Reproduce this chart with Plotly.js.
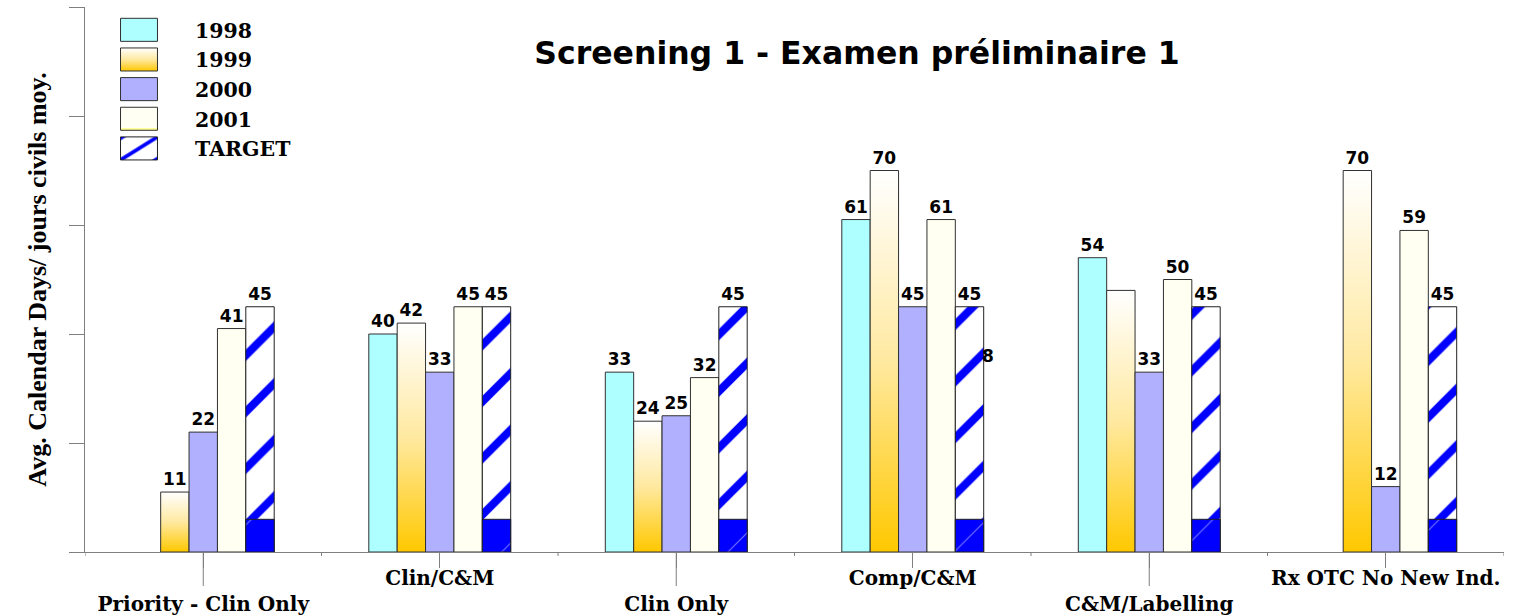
<!DOCTYPE html>
<html><head><meta charset="utf-8">
<script src="https://cdn.plot.ly/plotly-3.0.1.min.js"></script>
<style>html,body{margin:0;padding:0;background:#fff}</style>
</head><body>
<div id="chart" style="width:1520px;height:615px"></div>
<script>
// ---- data ----
const categories = ['Priority - Clin Only', 'Clin/C&M', 'Clin Only', 'Comp/C&M', 'C&M/Labelling', 'Rx OTC No New Ind.'];
const labelLowerRow = [true, false, true, false, true, false];
const seriesNames = ['1998', '1999', '2000', '2001', 'TARGET'];
const y1998 = [null, 40, 33, 61, 54, null];
const y1999 = [11, 42, 24, 70, 48, 70];
const y2000 = [22, 33, 25, 45, 33, 12];
const y2001 = [41, 45, 32, 61, 50, 59];
const yTarget = [45, 45, 45, 45, 45, 45];
const yTargetSolid = [6, 6, 6, 6, 6, 6];
const unlabeled1999 = ['C&M/Labelling'];
const strayLabel = {text: '8', category: 'Comp/C&M', value: 36};
const titleText = 'Screening 1 - Examen préliminaire 1';
const yTitleText = 'Avg. Calendar Days/ jours civils moy.';

// ---- build ----
function labels(vals, skipCats) {
  return vals.map((v, i) => (v == null || (skipCats && skipCats.includes(categories[i]))) ? '' : String(v));
}
const lblFont = {family: 'DejaVu Sans', size: 17, color: '#000', weight: 700};
function barTrace(name, vals, color, group, skip) {
  return {
    type: 'bar', name: name, x: categories, y: vals, offsetgroup: group,
    text: labels(vals, skip), textposition: 'outside', cliponaxis: false, constraintext: 'none',
    textfont: lblFont, hoverinfo: 'skip',
    marker: {color: color, line: {color: '#303030', width: 1}}
  };
}
const data = [
  barTrace(seriesNames[0], y1998, '#AEFFFF', 'a'),
  barTrace(seriesNames[1], y1999, '#FFE27A', 'b', unlabeled1999),
  barTrace(seriesNames[2], y2000, '#B0B0FF', 'c'),
  barTrace(seriesNames[3], y2001, '#FFFFF2', 'd'),
  Object.assign(barTrace(seriesNames[4], yTarget, '#FFFFFF', 'e'), {
    marker: {color: '#FFFFFF', line: {color: '#202020', width: 1},
      pattern: {shape: '/', fgcolor: '#0000FF', bgcolor: '#FFFFFF', size: 40, solidity: 0.2}}
  }),
  {
    type: 'bar', name: 'target-solid', x: categories, y: yTargetSolid, offsetgroup: 'e',
    showlegend: false, hoverinfo: 'skip',
    marker: {color: '#0000FF', line: {color: '#202020', width: 1},
      pattern: {shape: '/', fgcolor: '#7070FF', bgcolor: '#0000FF', size: 40, solidity: 0.03}}
  }
];

const shapes = [];
categories.forEach((c, i) => {
  if (labelLowerRow[i]) {
    shapes.push({type: 'line', xref: 'x', x0: c, x1: c, yref: 'paper', ysizemode: 'pixel', yanchor: 0,
      y0: 0, y1: -34, line: {color: '#7f7f7f', width: 1}});
  }
});
for (let i = 0; i <= categories.length; i++) {
  shapes.push({type: 'line', xref: 'x', x0: i - 0.5, x1: i - 0.5, yref: 'paper', ysizemode: 'pixel', yanchor: 0,
    y0: 0, y1: -4, line: {color: '#7f7f7f', width: 1}});
}

const PL = 85, PT = 7, PW = 1520 - 85 - 16, PH = 615 - 7 - 63;
const layout = {
  width: 1520, height: 615,
  margin: {l: PL, r: 16, t: PT, b: 63, autoexpand: false},
  paper_bgcolor: '#fff', plot_bgcolor: '#fff',
  barmode: 'group', bargap: 0.4, bargroupgap: 0,
  showlegend: true,
  title: {text: titleText, font: {family: 'DejaVu Sans', size: 31.5, weight: 700, color: '#000'},
    xref: 'container', x: 857 / 1520, xanchor: 'center', yref: 'container', y: 1 - 53 / 615, yanchor: 'middle'},
  legend: {x: (115 - PL) / PW, xanchor: 'left', y: 1 - (10 - PT) / PH, yanchor: 'top', itemwidth: 70,
    bgcolor: 'rgba(0,0,0,0)', font: {family: 'DejaVu Serif', size: 20.5, weight: 700, color: '#000'}, tracegroupgap: 0},
  xaxis: {type: 'category', range: [-0.5, categories.length - 0.5], showline: true, linecolor: '#7f7f7f', linewidth: 1,
    ticks: 'outside', ticklen: 15, tickcolor: '#7f7f7f', tickwidth: 1, tickangle: 0, ticklabelstandoff: -7,
    tickmode: 'array', tickvals: categories,
    ticktext: categories.map((c, i) => labelLowerRow[i] ? '<br>' + c : c),
    tickfont: {family: 'DejaVu Serif', size: 20, weight: 700, color: '#000'},
    showgrid: false, zeroline: false, automargin: false},
  yaxis: {range: [0, 100], dtick: 20, showline: true, linecolor: '#7f7f7f', linewidth: 1,
    ticks: 'outside', ticklen: 15, tickcolor: '#7f7f7f', tickwidth: 1, showticklabels: false,
    showgrid: false, zeroline: false, automargin: false,
    title: {text: yTitleText, standoff: 14, font: {family: 'Liberation Serif', size: 26, weight: 700, color: '#000'}}},
  shapes: shapes,
  annotations: [{x: strayLabel.category, y: strayLabel.value, xref: 'x', yref: 'y', text: strayLabel.text,
    showarrow: false, xshift: 75, font: lblFont}]
};

Plotly.newPlot('chart', data, layout, {staticPlot: true}).then(gd => {
  const NS = 'http://www.w3.org/2000/svg';
  const svg = gd.querySelector('svg.main-svg');
  const defs = document.createElementNS(NS, 'defs');
  svg.insertBefore(defs, svg.firstChild);
  function grad(id, stops) {
    const g = document.createElementNS(NS, 'linearGradient');
    g.setAttribute('id', id); g.setAttribute('x1', '0'); g.setAttribute('y1', '0');
    g.setAttribute('x2', '0'); g.setAttribute('y2', '1');
    stops.forEach(s => {
      const st = document.createElementNS(NS, 'stop');
      st.setAttribute('offset', s[0]); st.setAttribute('stop-color', s[1]);
      g.appendChild(st);
    });
    defs.appendChild(g);
  }
  grad('g1999', [[0, '#FFFFFF'], [0.5, '#FFE9A0'], [1, '#FFC800']]);
  grad('g2001', [[0, '#FFFFF4'], [0.9, '#FFFFF2'], [0.92, '#FFFF99'], [1, '#FFFF99']]);
  const traces = gd.querySelectorAll('.barlayer .trace.bars');
  traces[1].querySelectorAll('path').forEach(p => { p.style.fill = 'url(#g1999)'; });
  // legend swatches
  const items = gd.querySelectorAll('.legend .traces');
  items.forEach((it, i) => {
    const t = it.querySelector('.legendtext');
    const tx = parseFloat(t.getAttribute('x')) || 40;
    it.querySelectorAll('.legendpoints path').forEach(p => {
      p.setAttribute('transform', 'translate(' + (tx - 56) + ',0) scale(3.08,1.92)');
      p.style.vectorEffect = 'non-scaling-stroke';
      if (i === 1) p.style.fill = 'url(#g1999)';
      if (i === 3) p.style.fill = 'url(#g2001)';
    });
  });
});
</script>
</body></html>
